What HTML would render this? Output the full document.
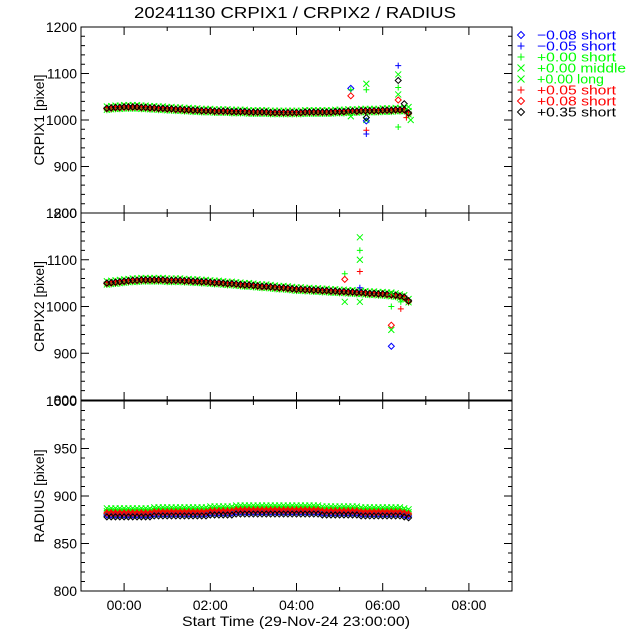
<!DOCTYPE html>
<html><head><meta charset="utf-8">
<style>
html,body{margin:0;padding:0;background:#fff;}
svg{display:block;font-family:"Liberation Sans",sans-serif;}
</style></head>
<body>
<svg id="chart" width="640" height="640" viewBox="0 0 640 640" xmlns="http://www.w3.org/2000/svg">
<rect width="640" height="640" fill="#fff"/>
<text x="295" y="18" font-size="16" text-anchor="middle" textLength="322" lengthAdjust="spacingAndGlyphs" fill="#000">20241130 CRPIX1 / CRPIX2 / RADIUS</text>
<text x="296" y="626" font-size="14" text-anchor="middle" textLength="228" lengthAdjust="spacingAndGlyphs" fill="#000">Start Time (29-Nov-24 23:00:00)</text>
<g id="legend"></g>
<g id="panels"></g>
</svg>
<script>
// ---- data ----
const xTickLabels = ["00:00","02:00","04:00","06:00","08:00"];
const xTickHours = [0,2,4,6,8];
const seriesLabels = ["\u22120.08 short","\u22120.05 short","+0.00 short","+0.00 middle","+0.00 long","+0.05 short","+0.08 short","+0.35 short"];
const seriesColors = ["#0000ff","#0000ff","#00ff00","#00ff00","#00ff00","#ff0000","#ff0000","#000000"];
const seriesSymbols = ["diamond","plus","plus","cross","cross","plus","diamond","diamond"];
const timeStart = -0.4;
const timeStep = 0.1;
const crpix1Center = [1025,1026,1027,1027,1028,1028,1028,1028,1027,1027,
1026,1026,1025,1025,1024,1024,1023,1023,1022,1022,
1021,1021,1020,1020,1020,1019,1019,1019,1019,1018,
1018,1018,1018,1017,1017,1017,1017,1017,1016,1016,
1016,1016,1016,1016,1016,1016,1017,1017,1017,1017,
1017,1017,1017,1018,1018,1018,1019,1019,1019,1020,
1020,1020,1020,1020,1021,1021,1021,1022,1022,1022,1015];
const crpix2Center = [1050,1051,1052,1053,1054,1055,1056,1056,1057,1057,
1057,1057,1057,1057,1056,1056,1056,1056,1055,1055,
1054,1054,1053,1053,1052,1051,1051,1050,1049,1049,
1048,1047,1046,1046,1045,1044,1043,1043,1042,1041,
1040,1040,1039,1038,1037,1037,1036,1036,1035,1035,
1034,1034,1033,1033,1032,1032,1031,1031,1030,1030,
1029,1028,1028,1027,1027,1026,1025,1024,1022,1020,1012];
const radiusCenter = [879,879,879,879,879,879,879,879,879,879,
879,880,880,880,880,880,880,880,880,880,
880,880,880,880,881,881,881,881,881,881,
882,882,882,882,882,882,882,882,882,882,
882,882,882,882,882,882,882,882,882,882,
881,881,881,881,881,881,881,881,881,880,
880,880,880,880,880,880,880,880,880,879,878];
const crpix1Offsets = [0,1,-4,4,-3,2,-1,0];
const crpix2Offsets = [0,1,-4,4,-3,2,-1,0];
const radiusOffsets = [1,2,6,8,5,4,3,-1];
const crpix1OutTimes = [5.26,5.26,5.26,5.26,5.62,5.62,5.62,5.62,5.62,5.62,5.62,6.36,6.36,6.36,6.36,6.36,6.36,6.36,6.5,6.55,6.6,6.65];
const crpix1OutValues = [1068,1065,1052,1008,1078,1065,1000,978,970,998,1005,1117,1098,1085,1070,1055,1043,985,1035,1005,1028,1000];
const crpix1OutSeries = [0,2,6,3,3,2,4,5,1,0,7,1,3,7,2,4,6,2,7,5,3,4];
const crpix2OutTimes = [5.12,5.12,5.12,5.47,5.47,5.47,5.47,5.47,5.47,6.2,6.2,6.2,6.2,6.2,6.42,6.42];
const crpix2OutValues = [1070,1058,1010,1148,1120,1100,1075,1040,1010,1030,1000,960,950,915,1010,995];
const crpix2OutSeries = [2,6,3,3,2,4,5,1,3,3,2,6,4,0,2,5];

// ---- layout ----
const X0 = 81, X1 = 512, H0 = -1, H1 = 9;
const xs = h => X0 + (h - H0) / (H1 - H0) * (X1 - X0);
const panels = [
 {name:"crpix1", top:27, bot:213, min:800, max:1200, major:100, minor:20, label:"CRPIX1 [pixel]", center:crpix1Center, offs:crpix1Offsets, ot:crpix1OutTimes, ov:crpix1OutValues, os:crpix1OutSeries},
 {name:"crpix2", top:213, bot:400, min:800, max:1200, major:100, minor:20, label:"CRPIX2 [pixel]", center:crpix2Center, offs:crpix2Offsets, ot:crpix2OutTimes, ov:crpix2OutValues, os:crpix2OutSeries},
 {name:"radius", top:401, bot:591, min:800, max:1000, major:50, minor:10, label:"RADIUS [pixel]", center:radiusCenter, offs:radiusOffsets, ot:[], ov:[], os:[]}
];
const NS = "http://www.w3.org/2000/svg";
function mk(tag, attrs, parent){const e=document.createElementNS(NS,tag);for(const k in attrs)e.setAttribute(k,attrs[k]);parent.appendChild(e);return e;}
function marker(g, sym, x, y, c){
  const r = 3;
  let e;
  if(sym==="diamond"){e=mk("path",{d:`M${x} ${y-r}L${x+r} ${y}L${x} ${y+r}L${x-r} ${y}Z`,fill:"none",stroke:c,"stroke-width":1},g);}
  else if(sym==="plus"){e=mk("path",{d:`M${x-r} ${y}H${x+r}M${x} ${y-r}V${y+r}`,stroke:c,"stroke-width":1},g);}
  else {e=mk("path",{d:`M${x-r} ${y-r}L${x+r} ${y+r}M${x-r} ${y+r}L${x+r} ${y-r}`,stroke:c,"stroke-width":1},g);}
  
  
}
const root = document.getElementById("panels");
panels.forEach(p => {
  const g = mk("g",{},root);
  
  
  const ys = v => p.bot - (v - p.min) / (p.max - p.min) * (p.bot - p.top);
  const dg = mk("g",{},g);
  
  
  for(let s=0;s<8;s++){
    p.center.forEach((v,i)=>{
      const t = timeStart + i*timeStep;
      marker(dg, seriesSymbols[s], xs(t), ys(v + p.offs[s]), seriesColors[s]);
    });
  }
  p.ot.forEach((t,i)=>{
    const s = p.os[i];
    marker(dg, seriesSymbols[s], xs(t), ys(p.ov[i]), seriesColors[s]);
  });
  const fr = mk("rect",{x:X0,y:p.top,width:X1-X0,height:p.bot-p.top,fill:"none",stroke:"#000","stroke-width":1},g);
  
  
  for(let v=p.min; v<=p.max+1e-9; v+=p.minor){
    const y = ys(v);
    const isMaj = Math.abs((v-p.min)%p.major) < 1e-6;
    const L = isMaj ? 8 : 4;
    mk("path",{d:`M${X0} ${y}H${X0+L}M${X1} ${y}H${X1-L}`,stroke:"#000","stroke-width":1},g);
    if(isMaj){
      const t = mk("text",{x:X0-4,y:y+5,"font-size":14,"text-anchor":"end",fill:"#000"},g);
      t.textContent = v;
      
      
    }
  }
  for(let h=0; h<=8; h++){
    const x = xs(h);
    const L = (h%2===0) ? 8 : 4;
    mk("path",{d:`M${x} ${p.bot}V${p.bot-L}M${x} ${p.top}V${p.top+L}`,stroke:"#000","stroke-width":1},g);
  }
  const yl = mk("text",{x:0,y:0,"font-size":14,"text-anchor":"middle",fill:"#000",transform:`translate(44 ${(p.top+p.bot)/2}) rotate(-90)`},g);
  yl.textContent = p.label;
  
  
});
xTickHours.forEach((h,i)=>{
  const t = mk("text",{x:xs(h),y:610,"font-size":14,"text-anchor":"middle",fill:"#000"},root);
  t.textContent = xTickLabels[i];
  
  
});
const lg = document.getElementById("legend");
seriesLabels.forEach((lab,i)=>{
  const y = 35 + i*11;
  const eg = mk("g",{},lg);
  
  
  const r=3.5, x=521, c=seriesColors[i], s=seriesSymbols[i];
  if(s==="diamond") mk("path",{d:`M${x} ${y-r}L${x+r} ${y}L${x} ${y+r}L${x-r} ${y}Z`,fill:"none",stroke:c},eg);
  else if(s==="plus") mk("path",{d:`M${x-r} ${y}H${x+r}M${x} ${y-r}V${y+r}`,stroke:c},eg);
  else mk("path",{d:`M${x-r} ${y-r}L${x+r} ${y+r}M${x-r} ${y+r}L${x+r} ${y-r}`,stroke:c},eg);
  const len = lab.indexOf("middle")>=0 ? 89 : (lab.indexOf("long")>=0 ? 67 : 79);
  const t = mk("text",{x:537,y:y+4.5,"font-size":13,fill:c,textLength:len,lengthAdjust:"spacingAndGlyphs"},eg);
  t.textContent = lab;
});
</script>
</body></html>
